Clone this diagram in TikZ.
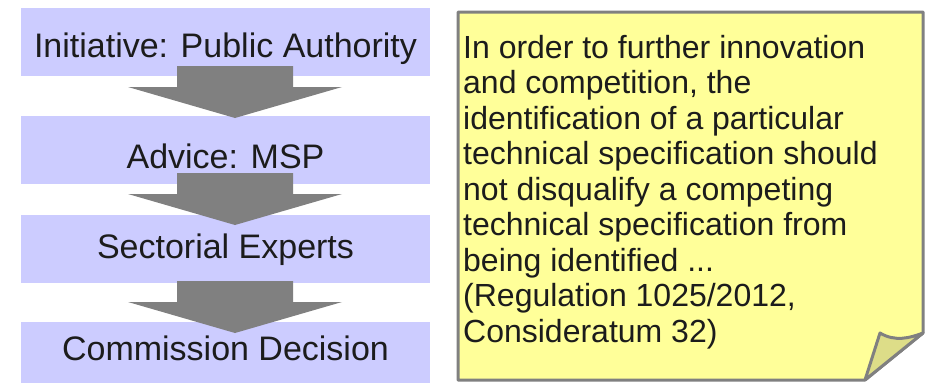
\documentclass[tikz,border=0pt]{standalone}
\usepackage{fontspec}
\setmainfont{Liberation Sans}
\definecolor{boxblue}{HTML}{CCCCFF}
\definecolor{arrowgray}{HTML}{808080}
\definecolor{noteyellow}{HTML}{FFFF99}
\definecolor{foldyellow}{HTML}{DDDD88}
\definecolor{textdark}{HTML}{1C1C1C}
\newcommand{\boxW}{409}
\newcommand{\boxH}{68}
\newcommand{\midX}{225.5}
% block arrow, argument is the top of the shaft
\newcommand{\flowarrow}[1]{%
    \fill[arrowgray] (177,#1) -- (293,#1) -- (293,#1+21) -- (342,#1+21)
        -- (235,#1+52) -- (128,#1+21) -- (177,#1+21) -- cycle;}

\begin{document}
\begin{tikzpicture}[x=1pt,y=-1pt,
        stagebox/.style={fill=boxblue,minimum width=\boxW,minimum height=\boxH,inner sep=0,anchor=north west},
        stagetext/.style={anchor=base,inner sep=0,text=textdark,font=\fontsize{34}{40}\selectfont}]

        \useasboundingbox (0,0) rectangle (932,383);

        % Draw the stage boxes
        \node[stagebox] (initiative) at (21,8) {};
        \node[stagebox] (advice) at (21,116) {};
        \node[stagebox] (experts) at (21,215) {};
        \node[stagebox,minimum height=61] (decision) at (21,322) {};

        % Labels of the stages
        \node[stagetext] (initiativetext) at (\midX,57) {Initiative: Public Authority};
        \node[stagetext] (advicetext) at (\midX,168) {Advice: MSP};
        \node[stagetext] (expertstext) at (\midX,258) {Sectorial Experts};
        \node[stagetext] (decisiontext) at (\midX,360) {Commission Decision};

        % Arrows between the stages
        \flowarrow{66}
        \flowarrow{173}
        \flowarrow{281}

        % Draw the note with the folded corner
        \draw[arrowgray,line width=3pt,fill=noteyellow,line join=round]
            (458,12) -- (923,12) -- (923,333) -- (865,380) -- (458,380) -- cycle;
        \draw[arrowgray,line width=3pt,fill=foldyellow,line join=round]
            (865,380) -- (880,333) .. controls (895,342) and (910,338) .. (923,333) -- cycle;

        % Text of the note (base anchor is the last line)
        \node[anchor=base west,inner sep=0,align=left,text=textdark,font=\fontsize{32}{35.5}\selectfont] (quote) at (463,342)
            {In order to further innovation\\
             and competition, the\\
             identification of a particular\\
             technical specification should\\
             not disqualify a competing\\
             technical specification from\\
             being identified ...\\
             (Regulation 1025/2012,\\
             Consideratum 32)};
    \end{tikzpicture}
\end{document}
